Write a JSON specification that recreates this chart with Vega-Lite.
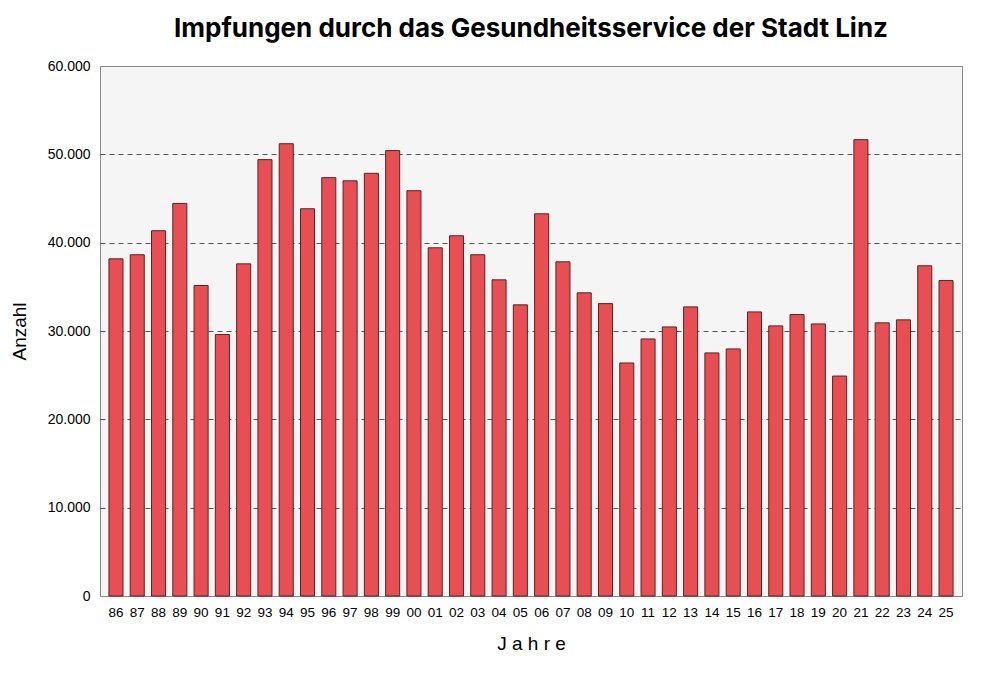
{
  "$schema": "https://vega.github.io/schema/vega-lite/v6.json",
  "width": 862,
  "height": 530,
  "autosize": "none",
  "padding": {"left": 100, "top": 66, "right": 38, "bottom": 82},
  "background": "white",
  "title": {
    "text": "Impfungen durch das Gesundheitsservice der Stadt Linz",
    "font": "Inter",
    "fontSize": 26,
    "fontWeight": 700,
    "color": "#000",
    "anchor": "middle",
    "offset": 17
  },
  "config": {
    "view": {"fill": "#f5f5f5", "stroke": "#888888", "strokeWidth": 1},
    "axis": {"labelFont": "Liberation Sans", "titleFont": "Liberation Sans", "labelColor": "#000", "titleColor": "#000"}
  },
  "data": {
    "values": [
      {"Jahr": "86", "Anzahl": 38170},
      {"Jahr": "87", "Anzahl": 38630},
      {"Jahr": "88", "Anzahl": 41350},
      {"Jahr": "89", "Anzahl": 44440},
      {"Jahr": "90", "Anzahl": 35150},
      {"Jahr": "91", "Anzahl": 29600},
      {"Jahr": "92", "Anzahl": 37600},
      {"Jahr": "93", "Anzahl": 49400},
      {"Jahr": "94", "Anzahl": 51200},
      {"Jahr": "95", "Anzahl": 43840},
      {"Jahr": "96", "Anzahl": 47360},
      {"Jahr": "97", "Anzahl": 47000},
      {"Jahr": "98", "Anzahl": 47850},
      {"Jahr": "99", "Anzahl": 50420},
      {"Jahr": "00", "Anzahl": 45880},
      {"Jahr": "01", "Anzahl": 39420},
      {"Jahr": "02", "Anzahl": 40780},
      {"Jahr": "03", "Anzahl": 38630},
      {"Jahr": "04", "Anzahl": 35790},
      {"Jahr": "05", "Anzahl": 32960},
      {"Jahr": "06", "Anzahl": 43270},
      {"Jahr": "07", "Anzahl": 37830},
      {"Jahr": "08", "Anzahl": 34320},
      {"Jahr": "09", "Anzahl": 33100},
      {"Jahr": "10", "Anzahl": 26380},
      {"Jahr": "11", "Anzahl": 29100},
      {"Jahr": "12", "Anzahl": 30460},
      {"Jahr": "13", "Anzahl": 32730},
      {"Jahr": "14", "Anzahl": 27520},
      {"Jahr": "15", "Anzahl": 27970},
      {"Jahr": "16", "Anzahl": 32160},
      {"Jahr": "17", "Anzahl": 30580},
      {"Jahr": "18", "Anzahl": 31860},
      {"Jahr": "19", "Anzahl": 30800},
      {"Jahr": "20", "Anzahl": 24900},
      {"Jahr": "21", "Anzahl": 51660},
      {"Jahr": "22", "Anzahl": 30920},
      {"Jahr": "23", "Anzahl": 31260},
      {"Jahr": "24", "Anzahl": 37380},
      {"Jahr": "25", "Anzahl": 35710}
    ]
  },
  "mark": {"type": "bar", "color": "#e84f55", "stroke": "#5c2222", "strokeWidth": 1},
  "encoding": {
    "x": {
      "field": "Jahr",
      "type": "ordinal",
      "sort": null,
      "scale": {"paddingInner": 0.34, "paddingOuter": 0.42},
      "axis": {
        "title": "J a h r e",
        "titleFontSize": 19,
        "titleFontWeight": "normal",
        "titlePadding": 16,
        "labelAngle": 0,
        "labelFontSize": 13.5,
        "labelPadding": 9,
        "ticks": false,
        "domain": false
      }
    },
    "y": {
      "field": "Anzahl",
      "type": "quantitative",
      "scale": {"domain": [0, 60000], "nice": false},
      "axis": {
        "title": "Anzahl",
        "titleFontSize": 19,
        "titleFontWeight": "normal",
        "titlePadding": 18,
        "values": [0, 10000, 20000, 30000, 40000, 50000, 60000],
        "labelExpr": "replace(format(datum.value, ','), ',', '.')",
        "labelFontSize": 14,
        "labelPadding": 10,
        "ticks": false,
        "domain": false,
        "gridColor": {"condition": {"test": "datum.value === 0 || datum.value === 60000", "value": "#888888"}, "value": "#555555"},
        "gridDash": {"condition": {"test": "datum.value === 0 || datum.value === 60000", "value": []}, "value": [5, 4]},
        "gridWidth": 1
      }
    }
  }
}
